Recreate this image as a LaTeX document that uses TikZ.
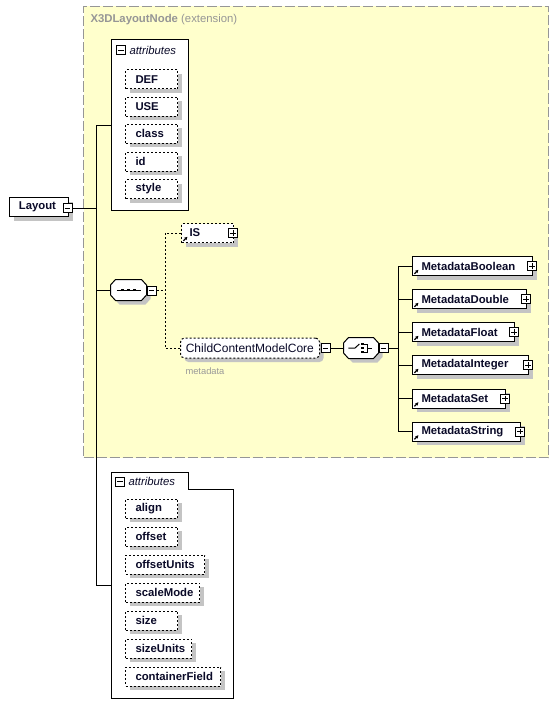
\documentclass[tikz,border=0pt]{standalone}
\usepackage{fontspec}
\setmainfont{Liberation Sans}
\usetikzlibrary{shadows,arrows.meta}
\definecolor{extfill}{RGB}{255,255,204}
\definecolor{extline}{RGB}{150,150,150}
\definecolor{ttl}{RGB}{150,150,150}
\definecolor{ink}{RGB}{10,10,40}
\tikzset{
  shad/.style={drop shadow={shadow xshift=3pt,shadow yshift=-3pt,fill=black!23,opacity=1}},
  ebox/.style={draw, fill=white, shad, font=\fontsize{8.5}{10}\selectfont\bfseries, text=ink,
    inner sep=0pt, minimum height=14.25pt, align=left, anchor=west, text width=#1},
  dbox/.style={ebox=#1, dash pattern=on 1.5pt off 1.5pt},
  pmbox/.style={draw, fill=white, minimum size=6.75pt, inner sep=0pt, line width=0.6pt},
  minusbox/.style={pmbox, path picture={\draw[line width=0.6pt]
      ([xshift=1.3pt]path picture bounding box.west) -- ([xshift=-1.3pt]path picture bounding box.east);}},
  plusbox/.style={pmbox, path picture={\draw[line width=0.6pt]
      ([xshift=1.3pt]path picture bounding box.west) -- ([xshift=-1.3pt]path picture bounding box.east)
      ([yshift=-1.3pt]path picture bounding box.north) -- ([yshift=1.3pt]path picture bounding box.south);}},
  octa/.style={insert path={([yshift=3.75pt]#1.west) -- ([xshift=3.75pt]#1.north west)
      -- ([xshift=-3.75pt]#1.north east) -- ([yshift=3.75pt]#1.east) -- ([yshift=-3.75pt]#1.east)
      -- ([xshift=-3.75pt]#1.south east) -- ([xshift=3.75pt]#1.south west) -- ([yshift=-3.75pt]#1.west) -- cycle}},
  dconn/.style={dash pattern=on 1.5pt off 1.5pt},
  refmark/.style={line width=0.9pt, -{Stealth[length=2.4pt,width=2.6pt]}},
}
\begin{document}
\begin{tikzpicture}[x=0.75pt,y=-0.75pt,line width=0.75pt]
\useasboundingbox (0,0) rectangle (560,717);

% extension area
\node[draw=extline, fill=extfill, dash pattern=on 7.5pt off 2.25pt, inner sep=0pt,
  minimum width=348.75pt, minimum height=338.25pt, anchor=north west] (ext) at (83,6) {};
\node[anchor=west, text=ttl, inner sep=0pt, font=\fontsize{8.5}{10}\selectfont] (title) at (90,20)
  {\bfseries X3DLayoutNode\mdseries\ (extension)};

% top attributes group
\node[draw, fill=white, inner sep=0pt, minimum width=57.75pt, minimum height=128.25pt,
  anchor=north west] (attrA) at (111,39) {};
\node[minusbox] (amA) at (121,50) {};
\node[anchor=west, inner sep=0pt, text=ink, font=\fontsize{8.5}{10}\selectfont\itshape] (atA) at (129,50) {attributes};
\node[dbox=39pt] (aDEF) at (125,79.5) {\hspace*{7.5pt}DEF};
\node[dbox=39pt] (aUSE) at (125,106.5) {\hspace*{7.5pt}USE};
\node[dbox=39pt] (aclass) at (125,133.5) {\hspace*{7.5pt}class};
\node[dbox=39pt] (aid) at (125,161.5) {\hspace*{7.5pt}id};
\node[dbox=39pt] (astyle) at (125,189) {\hspace*{7.5pt}style};

% Layout element
\node[ebox=44.25pt] (lay) at (9,207) {\hspace*{7pt}Layout};
\node[minusbox] (layM) at (67.5,208) {};

% bottom attributes group
\node[inner sep=0pt, minimum width=90.75pt, minimum height=168.75pt, anchor=north west] (attrB) at (111,472) {};
\draw[fill=white] (attrB.north west) -- ([xshift=57.75pt]attrB.north west)
  -- ([xshift=57.75pt,yshift=-12.75pt]attrB.north west) -- ([yshift=-12.75pt]attrB.north east)
  -- (attrB.south east) -- (attrB.south west) -- cycle;
\node[minusbox] (amB) at (120,481.5) {};
\node[anchor=west, inner sep=0pt, text=ink, font=\fontsize{8.5}{10}\selectfont\itshape] (atB) at (128,481.5) {attributes};
\node[dbox=39pt] (balign) at (125,508.5) {\hspace*{7.5pt}align};
\node[dbox=39pt] (boffset) at (125,536.5) {\hspace*{7.5pt}offset};
\node[dbox=59.25pt] (boffu) at (125,564.5) {\hspace*{7.5pt}offsetUnits};
\node[dbox=55.5pt] (bscale) at (125,592.5) {\hspace*{7.5pt}scaleMode};
\node[dbox=39pt] (bsize) at (125,620.5) {\hspace*{7.5pt}size};
\node[dbox=49.5pt] (bsizeu) at (125,648.5) {\hspace*{7.5pt}sizeUnits};
\node[dbox=71.25pt] (bcf) at (125,676.5) {\hspace*{7.5pt}containerField};

% sequence compositor
\node[inner sep=0pt, minimum width=26.25pt, minimum height=15pt] (seq) at (128.5,290) {};
\path[draw, fill=white, shad, octa=seq];
\draw ([xshift=-9pt]seq.center) -- ([xshift=9pt]seq.center);
\foreach \dx in {-4.2pt,0pt,4.2pt}
  \fill ([xshift=\dx]seq.center) +(-1.1pt,-1.1pt) rectangle +(1.1pt,1.1pt);
\node[minusbox, anchor=west] (seqM) at ([xshift=0.2pt,yshift=-0.4pt]seq.east) {};

% IS
\node[dbox=39pt] (is) at (181,233) {\hspace*{6pt}IS};
\draw[refmark] ([xshift=1.8pt,yshift=1.6pt]is.south west) -- ++(3pt,3pt);
\node[plusbox] (isP) at ([xshift=-0.8pt]is.east) {};

% ChildContentModelCore
\node[draw, fill=white, shad, dash pattern=on 1.5pt off 1.5pt, rounded corners=3pt, inner sep=0pt,
  minimum height=15pt, anchor=west, align=left, text width=104.25pt, text=ink,
  font=\fontsize{9}{10}\selectfont] (ccmc) at (180,348) {\hspace*{4pt}ChildContentModelCore};
\node[minusbox, anchor=west] (ccM) at ([xshift=0.5pt]ccmc.east) {};
\node[anchor=west, inner sep=0pt, text=black!40, font=\fontsize{7}{8}\selectfont] (mdl) at (185,371) {metadata};

% choice compositor
\node[inner sep=0pt, minimum width=25.5pt, minimum height=15pt] (cho) at (361,348) {};
\path[draw, fill=white, shad, octa=cho];
\draw ([xshift=-9.5pt]cho.center) -- ([xshift=-4.5pt]cho.center) -- ([xshift=-1.2pt,yshift=3pt]cho.center);
\foreach \dy in {-3pt,0pt,3pt}
  \fill ([xshift=1pt,yshift=\dy]cho.center) +(-1.1pt,-1.1pt) rectangle +(1.1pt,1.1pt);
\draw ([xshift=2.5pt,yshift=3pt]cho.center) -- ([xshift=4.5pt,yshift=3pt]cho.center)
  -- ([xshift=4.5pt,yshift=-3pt]cho.center) -- ([xshift=2.5pt,yshift=-3pt]cho.center);
\draw ([xshift=4.5pt]cho.center) -- ([xshift=8pt]cho.center);
\node[minusbox, anchor=west] (choM) at ([xshift=0.2pt]cho.east) {};

% Metadata elements
\node[ebox=90pt] (mB) at (412,266) {\hspace*{6.75pt}MetadataBoolean};
\node[ebox=85.5pt] (mD) at (412,299) {\hspace*{6.75pt}MetadataDouble};
\node[ebox=76.5pt] (mF) at (412,332) {\hspace*{6.75pt}MetadataFloat};
\node[ebox=87pt] (mI) at (412,365) {\hspace*{6.75pt}MetadataInteger};
\node[ebox=69.75pt] (mSet) at (412,398.5) {\hspace*{6.75pt}MetadataSet};
\node[ebox=81pt] (mStr) at (412,431.5) {\hspace*{6.75pt}MetadataString};
\foreach \n in {mB,mD,mF,mI,mSet,mStr}{
  \draw[refmark] ([xshift=1.8pt,yshift=1.6pt]\n.south west) -- ++(3pt,3pt);
  \node[plusbox] (\n P) at ([xshift=-0.8pt]\n.east) {};
}

% connectors
\coordinate (bus) at (96,290);
\draw (layM.east) -- (layM.east -| bus);
\draw (attrA.west) -- (attrA.west -| bus) -- (attrB.west -| bus) -- (attrB.west);
\draw (seq.west) -- (seq.west -| bus);
\coordinate (sbus) at (165,290);
\draw[dconn] (seqM.east) -- (seqM.east -| sbus);
\draw[dconn] (is.west) -- (is.west -| sbus) -- (ccmc.west -| sbus) -- (ccmc.west);
\draw (ccM.east) -- (cho.west);
\coordinate (mbus) at (398,348);
\draw (choM.east) -- (choM.east -| mbus);
\draw (mB.west) -- (mB.west -| mbus) -- (mStr.west -| mbus) -- (mStr.west);
\foreach \n in {mD,mF,mI,mSet}
  \draw (\n.west) -- (\n.west -| mbus);
\end{tikzpicture}
\end{document}
